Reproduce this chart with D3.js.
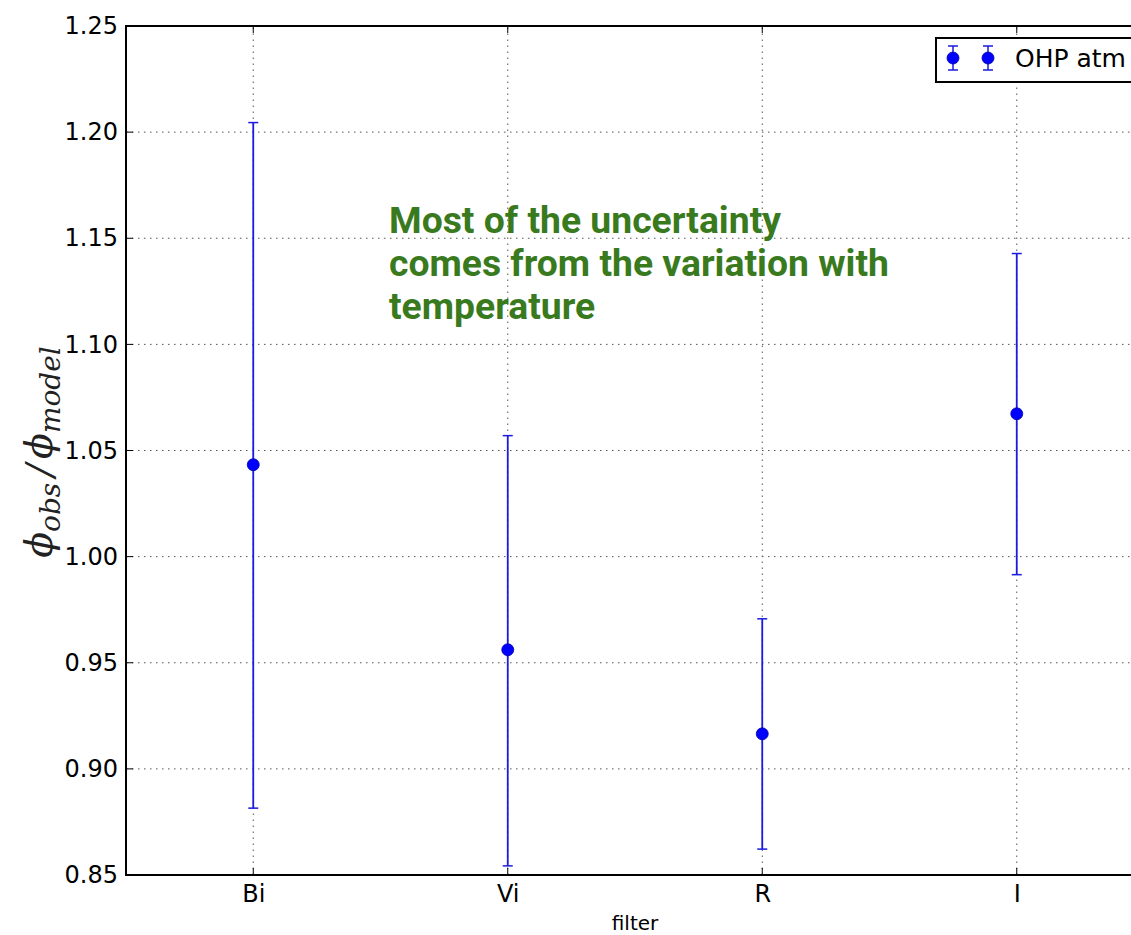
<!DOCTYPE html>
<html><head><meta charset="utf-8">
<script src="https://cdn.jsdelivr.net/npm/d3@7"></script>
<style>body{margin:0;background:#fff;} svg{display:block;}</style>
</head><body>
<script>
const categories = ["Bi", "Vi", "R", "I"];
const values = [1.0433, 0.9561, 0.9165, 1.0673];
const upper = [1.2045, 1.0570, 0.9707, 1.1428];
const lower = [0.8815, 0.8543, 0.8622, 0.9915];
const yTicks = [0.85, 0.90, 0.95, 1.00, 1.05, 1.10, 1.15, 1.20, 1.25];
const seriesName = "OHP atm";
const annotation = ["Most of the uncertainty", "comes from the variation with", "temperature"];

const W = 1131, H = 935;
const m = {left: 126, top: 26, right: 0, bottom: 60};
const plotRight = 1144;
const svg = d3.select("body").append("svg").attr("width", W).attr("height", H);

const x = d3.scaleLinear().domain([-0.5, 3.5]).range([m.left, plotRight]);
const y = d3.scaleLinear().domain([0.85, 1.25]).range([875, m.top]);

const font = "DejaVu Sans, sans-serif";
const g = svg.append("g");

// grid
g.selectAll(".hg").data(yTicks.slice(1, -1)).join("line")
  .attr("x1", m.left).attr("x2", plotRight)
  .attr("y1", d => y(d)).attr("y2", d => y(d))
  .attr("stroke", "#555").attr("stroke-width", 1).attr("stroke-dasharray", "1.5,4.5");
g.selectAll(".vg").data(categories).join("line")
  .attr("x1", (d, i) => x(i)).attr("x2", (d, i) => x(i))
  .attr("y1", y(0.85)).attr("y2", y(1.25))
  .attr("stroke", "#555").attr("stroke-width", 1).attr("stroke-dasharray", "1.5,4.5");

// axes
const yAxis = d3.axisLeft(y).tickValues(yTicks).tickFormat(d3.format(".2f")).tickSize(0).tickPadding(8);
const ya = g.append("g").attr("transform", `translate(${m.left},0)`).call(yAxis);
ya.select(".domain").remove();
ya.selectAll("text").attr("font-family", font).attr("font-size", 24).attr("fill", "#000");

const xAxis = d3.axisBottom(x).tickValues([0, 1, 2, 3]).tickFormat(i => categories[i]).tickSize(0).tickPadding(10);
const xa = g.append("g").attr("transform", `translate(0,${y(0.85)})`).call(xAxis);
xa.select(".domain").remove();
xa.selectAll("text").attr("font-family", font).attr("font-size", 24).attr("fill", "#000");

// inner tick marks
const tickLen = 7;
g.selectAll(".yt").data(yTicks).join("line")
  .attr("x1", m.left).attr("x2", m.left + tickLen).attr("y1", d => y(d)).attr("y2", d => y(d))
  .attr("stroke", "#000").attr("stroke-width", 1);
categories.forEach((c, i) => {
  g.append("line").attr("x1", x(i)).attr("x2", x(i)).attr("y1", y(0.85)).attr("y2", y(0.85) - tickLen).attr("stroke", "#000");
  g.append("line").attr("x1", x(i)).attr("x2", x(i)).attr("y1", y(1.25)).attr("y2", y(1.25) + tickLen).attr("stroke", "#000");
});

// frame
g.append("rect").attr("x", m.left).attr("y", y(1.25)).attr("width", plotRight - m.left).attr("height", y(0.85) - y(1.25))
  .attr("fill", "none").attr("stroke", "#000").attr("stroke-width", 2);

// error bars
const col = "#1a1ae0";
const cap = 5;
const eb = g.append("g");
categories.forEach((c, i) => {
  const cx = x(i);
  eb.append("line").attr("x1", cx).attr("x2", cx).attr("y1", y(upper[i])).attr("y2", y(lower[i])).attr("stroke", col).attr("stroke-width", 1.8);
  eb.append("line").attr("x1", cx - cap).attr("x2", cx + cap).attr("y1", y(upper[i])).attr("y2", y(upper[i])).attr("stroke", col).attr("stroke-width", 1.5);
  eb.append("line").attr("x1", cx - cap).attr("x2", cx + cap).attr("y1", y(lower[i])).attr("y2", y(lower[i])).attr("stroke", col).attr("stroke-width", 1.5);
});
eb.selectAll("circle").data(values).join("circle")
  .attr("cx", (d, i) => x(i)).attr("cy", d => y(d)).attr("r", 6).attr("fill", "#0000ff").attr("stroke", "#0000aa").attr("stroke-width", 0.8);

// legend
const lg = svg.append("g");
lg.append("rect").attr("x", 936).attr("y", 38).attr("width", 220).attr("height", 44).attr("fill", "#fff").attr("stroke", "#000").attr("stroke-width", 2);
[953, 988].forEach(lx => {
  lg.append("line").attr("x1", lx).attr("x2", lx).attr("y1", 46).attr("y2", 70).attr("stroke", col).attr("stroke-width", 1.5);
  lg.append("line").attr("x1", lx - 5).attr("x2", lx + 5).attr("y1", 46).attr("y2", 46).attr("stroke", col).attr("stroke-width", 1.5);
  lg.append("line").attr("x1", lx - 5).attr("x2", lx + 5).attr("y1", 70).attr("y2", 70).attr("stroke", col).attr("stroke-width", 1.5);
  lg.append("circle").attr("cx", lx).attr("cy", 58).attr("r", 6).attr("fill", "#0000ff").attr("stroke", "#0000aa").attr("stroke-width", 0.8);
});
lg.append("text").attr("x", 1015).attr("y", 67).attr("font-family", font).attr("font-size", 25).attr("fill", "#000").text(seriesName);

// axis labels
svg.append("text").attr("x", 635).attr("y", 930).attr("text-anchor", "middle").attr("font-family", font).attr("font-size", 20).text("filter");

const yl = svg.append("text").attr("transform", "translate(52,452) rotate(-90)").attr("text-anchor", "middle")
  .attr("font-family", "DejaVu Serif, serif").attr("font-style", "italic").attr("font-size", 38).attr("fill", "#222");
yl.append("tspan").text("ϕ");
yl.append("tspan").attr("font-size", 28).attr("dy", 8).text("obs");
yl.append("tspan").attr("dy", -8).attr("dx", 6).text("/");
yl.append("tspan").attr("dx", 5).text("ϕ");
yl.append("tspan").attr("font-size", 28).attr("dy", 8).text("model");

// annotation
const an = svg.append("text").attr("font-family", "Roboto, sans-serif").attr("font-weight", "bold").attr("font-size", 37.3).attr("fill", "#3a7a1e");
annotation.forEach((t, i) => an.append("tspan").attr("x", 389).attr("y", 233 + i * 43).text(t));
</script>
</body></html>
